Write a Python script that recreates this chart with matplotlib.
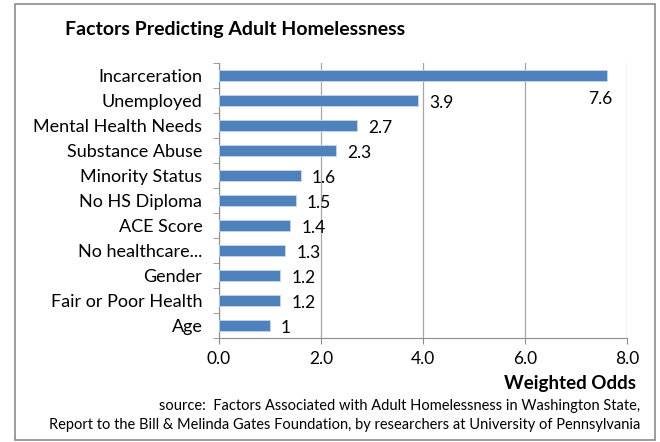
import matplotlib.pyplot as plt
from matplotlib.patches import Rectangle
import numpy as np

plt.rcParams['font.family'] = ['Lato', 'DejaVu Sans']

# data
factors = ["Incarceration", "Unemployed", "Mental Health Needs", "Substance Abuse",
           "Minority Status", "No HS Diploma", "ACE Score", "No healthcare...",
           "Gender", "Fair or Poor Health", "Age"]
odds = [7.6, 3.9, 2.7, 2.3, 1.6, 1.5, 1.4, 1.3, 1.2, 1.2, 1]
value_labels = ["7.6", "3.9", "2.7", "2.3", "1.6", "1.5", "1.4", "1.3", "1.2", "1.2", "1"]
xticks = [0, 2, 4, 6, 8]

fig = plt.figure(figsize=(6.6, 4.42), dpi=100)

# chart frame
fig.patches.append(Rectangle((15 / 660, 2 / 442), 640 / 660, 436 / 442,
                             transform=fig.transFigure, fill=False,
                             edgecolor='#8c8c8c', linewidth=1.2))

ax = fig.add_axes([219 / 660, 1 - 338 / 442, 408 / 660, 275 / 442])
y = np.arange(len(factors))
ax.barh(y, odds, height=0.42, color='#4f81bd', edgecolor='#c6d6ea', linewidth=0.6, zorder=3)
ax.set_ylim(len(factors) - 0.5, -0.5)
ax.set_xlim(0, 8)
ax.set_xticks(xticks)
ax.set_xticklabels([f"{t:.1f}" for t in xticks], fontsize=12.5)
ax.set_yticks(y)
ax.set_yticklabels(factors, fontsize=13)
ax.set_yticks(np.arange(len(factors) + 1) - 0.5, minor=True)
ax.tick_params(axis='y', which='major', length=0, pad=12)
ax.tick_params(axis='y', which='minor', length=4, color='#8c8c8c')
ax.tick_params(axis='x', length=4, color='#8c8c8c', pad=5)
ax.grid(axis='x', color='#a6a6a6', linewidth=0.9, zorder=0)
for s in ['top', 'right']:
    ax.spines[s].set_visible(False)
for s in ['left', 'bottom']:
    ax.spines[s].set_color('#8c8c8c')

for i, (v, lab) in enumerate(zip(odds, value_labels)):
    if i == 0:
        ax.annotate(lab, (v, i), xytext=(-4.5, -17), textcoords='offset points',
                    ha='center', va='center', fontsize=12.5)
    else:
        ax.annotate(lab, (v, i), xytext=(8, -2), textcoords='offset points',
                    ha='left', va='center', fontsize=12.5)

fig.text(65 / 660, 1 - 30 / 442, "Factors Predicting Adult Homelessness",
         fontsize=14, fontweight='bold', va='center', ha='left')
fig.text(636 / 660, 1 - 384 / 442, "Weighted Odds", fontsize=13.5,
         fontweight='bold', ha='right', va='center')
fig.text(640 / 660, 1 - 406 / 442,
         "source:  Factors Associated with Adult Homelessness in Washington State,",
         fontsize=10.5, ha='right', va='center')
fig.text(640 / 660, 1 - 425 / 442,
         "Report to the Bill & Melinda Gates Foundation, by researchers at University of Pennsylvania",
         fontsize=10.5, ha='right', va='center')

fig.savefig("out.png", dpi=100)
